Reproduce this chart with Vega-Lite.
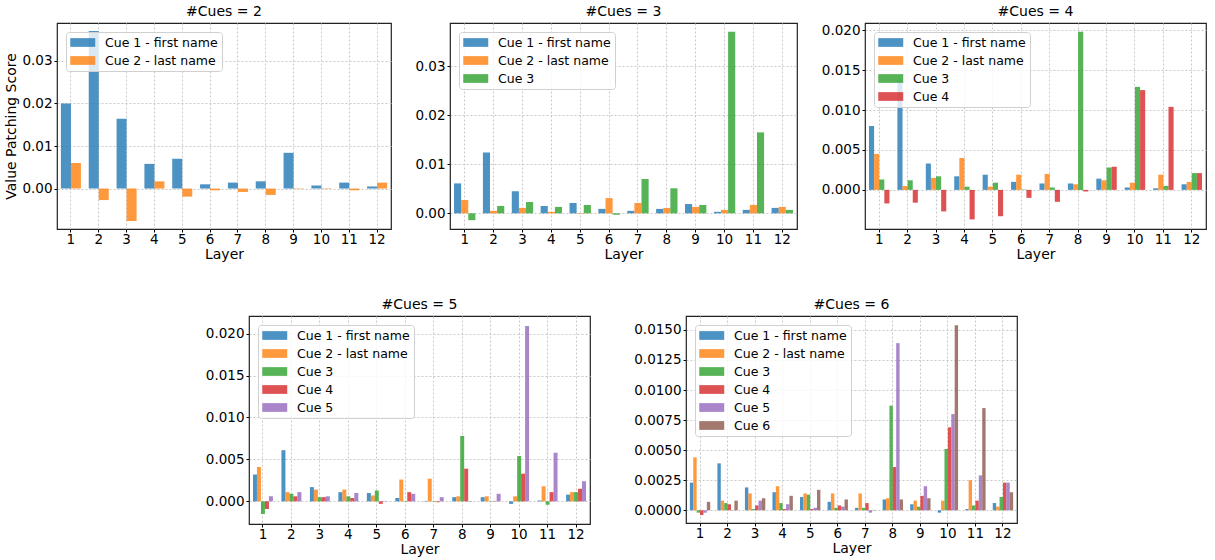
{
  "$schema": "https://vega.github.io/schema/vega-lite/v6.json",
  "background": "white",
  "padding": {"left": 4, "top": 4, "right": 0, "bottom": 0},
  "datasets": {
    "c2": [
      {"layer": 1, "cue": "Cue 1 - first name", "value": 0.0200},
      {"layer": 2, "cue": "Cue 1 - first name", "value": 0.0370},
      {"layer": 3, "cue": "Cue 1 - first name", "value": 0.0164},
      {"layer": 4, "cue": "Cue 1 - first name", "value": 0.0058},
      {"layer": 5, "cue": "Cue 1 - first name", "value": 0.0070},
      {"layer": 6, "cue": "Cue 1 - first name", "value": 0.0010},
      {"layer": 7, "cue": "Cue 1 - first name", "value": 0.0014},
      {"layer": 8, "cue": "Cue 1 - first name", "value": 0.0017},
      {"layer": 9, "cue": "Cue 1 - first name", "value": 0.0084},
      {"layer": 10, "cue": "Cue 1 - first name", "value": 0.0007},
      {"layer": 11, "cue": "Cue 1 - first name", "value": 0.0014},
      {"layer": 12, "cue": "Cue 1 - first name", "value": 0.0005},
      {"layer": 1, "cue": "Cue 2 - last name", "value": 0.0060},
      {"layer": 2, "cue": "Cue 2 - last name", "value": -0.0027},
      {"layer": 3, "cue": "Cue 2 - last name", "value": -0.0076},
      {"layer": 4, "cue": "Cue 2 - last name", "value": 0.0017},
      {"layer": 5, "cue": "Cue 2 - last name", "value": -0.0019},
      {"layer": 6, "cue": "Cue 2 - last name", "value": -0.0004},
      {"layer": 7, "cue": "Cue 2 - last name", "value": -0.0008},
      {"layer": 8, "cue": "Cue 2 - last name", "value": -0.0015},
      {"layer": 9, "cue": "Cue 2 - last name", "value": -0.0001},
      {"layer": 10, "cue": "Cue 2 - last name", "value": -0.0001},
      {"layer": 11, "cue": "Cue 2 - last name", "value": -0.0004},
      {"layer": 12, "cue": "Cue 2 - last name", "value": 0.0014}
    ],
    "c3": [
      {"layer": 1, "cue": "Cue 1 - first name", "value": 0.0061},
      {"layer": 2, "cue": "Cue 1 - first name", "value": 0.0124},
      {"layer": 3, "cue": "Cue 1 - first name", "value": 0.0045},
      {"layer": 4, "cue": "Cue 1 - first name", "value": 0.0015},
      {"layer": 5, "cue": "Cue 1 - first name", "value": 0.0021},
      {"layer": 6, "cue": "Cue 1 - first name", "value": 0.0009},
      {"layer": 7, "cue": "Cue 1 - first name", "value": 0.0005},
      {"layer": 8, "cue": "Cue 1 - first name", "value": 0.0009},
      {"layer": 9, "cue": "Cue 1 - first name", "value": 0.0019},
      {"layer": 10, "cue": "Cue 1 - first name", "value": 0.0003},
      {"layer": 11, "cue": "Cue 1 - first name", "value": 0.0007},
      {"layer": 12, "cue": "Cue 1 - first name", "value": 0.0011},
      {"layer": 1, "cue": "Cue 2 - last name", "value": 0.0027},
      {"layer": 2, "cue": "Cue 2 - last name", "value": 0.0005},
      {"layer": 3, "cue": "Cue 2 - last name", "value": 0.0011},
      {"layer": 4, "cue": "Cue 2 - last name", "value": 0.0003},
      {"layer": 5, "cue": "Cue 2 - last name", "value": -0.0001},
      {"layer": 6, "cue": "Cue 2 - last name", "value": 0.0031},
      {"layer": 7, "cue": "Cue 2 - last name", "value": 0.0021},
      {"layer": 8, "cue": "Cue 2 - last name", "value": 0.0011},
      {"layer": 9, "cue": "Cue 2 - last name", "value": 0.0013},
      {"layer": 10, "cue": "Cue 2 - last name", "value": 0.0007},
      {"layer": 11, "cue": "Cue 2 - last name", "value": 0.0017},
      {"layer": 12, "cue": "Cue 2 - last name", "value": 0.0013},
      {"layer": 1, "cue": "Cue 3", "value": -0.0014},
      {"layer": 2, "cue": "Cue 3", "value": 0.0015},
      {"layer": 3, "cue": "Cue 3", "value": 0.0023},
      {"layer": 4, "cue": "Cue 3", "value": 0.0013},
      {"layer": 5, "cue": "Cue 3", "value": 0.0017},
      {"layer": 6, "cue": "Cue 3", "value": -0.0003},
      {"layer": 7, "cue": "Cue 3", "value": 0.0070},
      {"layer": 8, "cue": "Cue 3", "value": 0.0051},
      {"layer": 9, "cue": "Cue 3", "value": 0.0017},
      {"layer": 10, "cue": "Cue 3", "value": 0.0370},
      {"layer": 11, "cue": "Cue 3", "value": 0.0165},
      {"layer": 12, "cue": "Cue 3", "value": 0.0007}
    ],
    "c4": [
      {"layer": 1, "cue": "Cue 1 - first name", "value": 0.0080},
      {"layer": 2, "cue": "Cue 1 - first name", "value": 0.0138},
      {"layer": 3, "cue": "Cue 1 - first name", "value": 0.0033},
      {"layer": 4, "cue": "Cue 1 - first name", "value": 0.0017},
      {"layer": 5, "cue": "Cue 1 - first name", "value": 0.0019},
      {"layer": 6, "cue": "Cue 1 - first name", "value": 0.0010},
      {"layer": 7, "cue": "Cue 1 - first name", "value": 0.0008},
      {"layer": 8, "cue": "Cue 1 - first name", "value": 0.0008},
      {"layer": 9, "cue": "Cue 1 - first name", "value": 0.0014},
      {"layer": 10, "cue": "Cue 1 - first name", "value": 0.0003},
      {"layer": 11, "cue": "Cue 1 - first name", "value": 0.0002},
      {"layer": 12, "cue": "Cue 1 - first name", "value": 0.0007},
      {"layer": 1, "cue": "Cue 2 - last name", "value": 0.0045},
      {"layer": 2, "cue": "Cue 2 - last name", "value": 0.0005},
      {"layer": 3, "cue": "Cue 2 - last name", "value": 0.0015},
      {"layer": 4, "cue": "Cue 2 - last name", "value": 0.0040},
      {"layer": 5, "cue": "Cue 2 - last name", "value": 0.0004},
      {"layer": 6, "cue": "Cue 2 - last name", "value": 0.0019},
      {"layer": 7, "cue": "Cue 2 - last name", "value": 0.0020},
      {"layer": 8, "cue": "Cue 2 - last name", "value": 0.0007},
      {"layer": 9, "cue": "Cue 2 - last name", "value": 0.0012},
      {"layer": 10, "cue": "Cue 2 - last name", "value": 0.0009},
      {"layer": 11, "cue": "Cue 2 - last name", "value": 0.0019},
      {"layer": 12, "cue": "Cue 2 - last name", "value": 0.0010},
      {"layer": 1, "cue": "Cue 3", "value": 0.0013},
      {"layer": 2, "cue": "Cue 3", "value": 0.0012},
      {"layer": 3, "cue": "Cue 3", "value": 0.0017},
      {"layer": 4, "cue": "Cue 3", "value": 0.0004},
      {"layer": 5, "cue": "Cue 3", "value": 0.0009},
      {"layer": 6, "cue": "Cue 3", "value": 0.00005},
      {"layer": 7, "cue": "Cue 3", "value": 0.0003},
      {"layer": 8, "cue": "Cue 3", "value": 0.0198},
      {"layer": 9, "cue": "Cue 3", "value": 0.0028},
      {"layer": 10, "cue": "Cue 3", "value": 0.0129},
      {"layer": 11, "cue": "Cue 3", "value": 0.0005},
      {"layer": 12, "cue": "Cue 3", "value": 0.0021},
      {"layer": 1, "cue": "Cue 4", "value": -0.0017},
      {"layer": 2, "cue": "Cue 4", "value": -0.0016},
      {"layer": 3, "cue": "Cue 4", "value": -0.0027},
      {"layer": 4, "cue": "Cue 4", "value": -0.0037},
      {"layer": 5, "cue": "Cue 4", "value": -0.0033},
      {"layer": 6, "cue": "Cue 4", "value": -0.0010},
      {"layer": 7, "cue": "Cue 4", "value": -0.0015},
      {"layer": 8, "cue": "Cue 4", "value": -0.0002},
      {"layer": 9, "cue": "Cue 4", "value": 0.0029},
      {"layer": 10, "cue": "Cue 4", "value": 0.0125},
      {"layer": 11, "cue": "Cue 4", "value": 0.0104},
      {"layer": 12, "cue": "Cue 4", "value": 0.0021}
    ],
    "c5": [
      {"layer": 1, "cue": "Cue 1 - first name", "value": 0.0032},
      {"layer": 2, "cue": "Cue 1 - first name", "value": 0.0061},
      {"layer": 3, "cue": "Cue 1 - first name", "value": 0.0017},
      {"layer": 4, "cue": "Cue 1 - first name", "value": 0.0011},
      {"layer": 5, "cue": "Cue 1 - first name", "value": 0.0010},
      {"layer": 6, "cue": "Cue 1 - first name", "value": 0.0004},
      {"layer": 7, "cue": "Cue 1 - first name", "value": 0.00005},
      {"layer": 8, "cue": "Cue 1 - first name", "value": 0.0005},
      {"layer": 9, "cue": "Cue 1 - first name", "value": 0.0005},
      {"layer": 10, "cue": "Cue 1 - first name", "value": -0.0003},
      {"layer": 11, "cue": "Cue 1 - first name", "value": 0.0001},
      {"layer": 12, "cue": "Cue 1 - first name", "value": 0.0008},
      {"layer": 1, "cue": "Cue 2 - last name", "value": 0.0041},
      {"layer": 2, "cue": "Cue 2 - last name", "value": 0.0011},
      {"layer": 3, "cue": "Cue 2 - last name", "value": 0.0014},
      {"layer": 4, "cue": "Cue 2 - last name", "value": 0.0014},
      {"layer": 5, "cue": "Cue 2 - last name", "value": 0.0007},
      {"layer": 6, "cue": "Cue 2 - last name", "value": 0.0026},
      {"layer": 7, "cue": "Cue 2 - last name", "value": 0.0027},
      {"layer": 8, "cue": "Cue 2 - last name", "value": 0.0006},
      {"layer": 9, "cue": "Cue 2 - last name", "value": 0.0006},
      {"layer": 10, "cue": "Cue 2 - last name", "value": 0.0006},
      {"layer": 11, "cue": "Cue 2 - last name", "value": 0.0018},
      {"layer": 12, "cue": "Cue 2 - last name", "value": 0.0011},
      {"layer": 1, "cue": "Cue 3", "value": -0.0015},
      {"layer": 2, "cue": "Cue 3", "value": 0.0009},
      {"layer": 3, "cue": "Cue 3", "value": 0.0005},
      {"layer": 4, "cue": "Cue 3", "value": 0.0006},
      {"layer": 5, "cue": "Cue 3", "value": 0.0013},
      {"layer": 6, "cue": "Cue 3", "value": 0.00005},
      {"layer": 7, "cue": "Cue 3", "value": 0.00005},
      {"layer": 8, "cue": "Cue 3", "value": 0.0078},
      {"layer": 9, "cue": "Cue 3", "value": 0.00005},
      {"layer": 10, "cue": "Cue 3", "value": 0.0054},
      {"layer": 11, "cue": "Cue 3", "value": -0.0004},
      {"layer": 12, "cue": "Cue 3", "value": 0.0011},
      {"layer": 1, "cue": "Cue 4", "value": -0.0009},
      {"layer": 2, "cue": "Cue 4", "value": 0.0006},
      {"layer": 3, "cue": "Cue 4", "value": 0.0005},
      {"layer": 4, "cue": "Cue 4", "value": 0.0004},
      {"layer": 5, "cue": "Cue 4", "value": -0.0003},
      {"layer": 6, "cue": "Cue 4", "value": 0.0011},
      {"layer": 7, "cue": "Cue 4", "value": -0.0001},
      {"layer": 8, "cue": "Cue 4", "value": 0.0039},
      {"layer": 9, "cue": "Cue 4", "value": 0.00005},
      {"layer": 10, "cue": "Cue 4", "value": 0.0033},
      {"layer": 11, "cue": "Cue 4", "value": 0.0011},
      {"layer": 12, "cue": "Cue 4", "value": 0.0015},
      {"layer": 1, "cue": "Cue 5", "value": 0.0006},
      {"layer": 2, "cue": "Cue 5", "value": 0.0011},
      {"layer": 3, "cue": "Cue 5", "value": 0.0006},
      {"layer": 4, "cue": "Cue 5", "value": 0.0010},
      {"layer": 5, "cue": "Cue 5", "value": 0.00005},
      {"layer": 6, "cue": "Cue 5", "value": 0.0009},
      {"layer": 7, "cue": "Cue 5", "value": 0.0005},
      {"layer": 8, "cue": "Cue 5", "value": 0.00005},
      {"layer": 9, "cue": "Cue 5", "value": 0.0009},
      {"layer": 10, "cue": "Cue 5", "value": 0.0209},
      {"layer": 11, "cue": "Cue 5", "value": 0.0058},
      {"layer": 12, "cue": "Cue 5", "value": 0.0024}
    ],
    "c6": [
      {"layer": 1, "cue": "Cue 1 - first name", "value": 0.0023},
      {"layer": 2, "cue": "Cue 1 - first name", "value": 0.0039},
      {"layer": 3, "cue": "Cue 1 - first name", "value": 0.0019},
      {"layer": 4, "cue": "Cue 1 - first name", "value": 0.0015},
      {"layer": 5, "cue": "Cue 1 - first name", "value": 0.0011},
      {"layer": 6, "cue": "Cue 1 - first name", "value": 0.0007},
      {"layer": 7, "cue": "Cue 1 - first name", "value": 0.0002},
      {"layer": 8, "cue": "Cue 1 - first name", "value": 0.0009},
      {"layer": 9, "cue": "Cue 1 - first name", "value": 0.0005},
      {"layer": 10, "cue": "Cue 1 - first name", "value": -0.0002},
      {"layer": 11, "cue": "Cue 1 - first name", "value": 0.0001},
      {"layer": 12, "cue": "Cue 1 - first name", "value": 0.0006},
      {"layer": 1, "cue": "Cue 2 - last name", "value": 0.0044},
      {"layer": 2, "cue": "Cue 2 - last name", "value": 0.0008},
      {"layer": 3, "cue": "Cue 2 - last name", "value": 0.0014},
      {"layer": 4, "cue": "Cue 2 - last name", "value": 0.0020},
      {"layer": 5, "cue": "Cue 2 - last name", "value": 0.0014},
      {"layer": 6, "cue": "Cue 2 - last name", "value": 0.0014},
      {"layer": 7, "cue": "Cue 2 - last name", "value": 0.0014},
      {"layer": 8, "cue": "Cue 2 - last name", "value": 0.0010},
      {"layer": 9, "cue": "Cue 2 - last name", "value": 0.0008},
      {"layer": 10, "cue": "Cue 2 - last name", "value": 0.0008},
      {"layer": 11, "cue": "Cue 2 - last name", "value": 0.0025},
      {"layer": 12, "cue": "Cue 2 - last name", "value": 0.0003},
      {"layer": 1, "cue": "Cue 3", "value": -0.0002},
      {"layer": 2, "cue": "Cue 3", "value": 0.0006},
      {"layer": 3, "cue": "Cue 3", "value": 0.0001},
      {"layer": 4, "cue": "Cue 3", "value": 0.0006},
      {"layer": 5, "cue": "Cue 3", "value": 0.0013},
      {"layer": 6, "cue": "Cue 3", "value": 0.0002},
      {"layer": 7, "cue": "Cue 3", "value": 0.0002},
      {"layer": 8, "cue": "Cue 3", "value": 0.0087},
      {"layer": 9, "cue": "Cue 3", "value": 0.0003},
      {"layer": 10, "cue": "Cue 3", "value": 0.0051},
      {"layer": 11, "cue": "Cue 3", "value": 0.0004},
      {"layer": 12, "cue": "Cue 3", "value": 0.0011},
      {"layer": 1, "cue": "Cue 4", "value": -0.0004},
      {"layer": 2, "cue": "Cue 4", "value": 0.0005},
      {"layer": 3, "cue": "Cue 4", "value": 0.0004},
      {"layer": 4, "cue": "Cue 4", "value": 0.0001},
      {"layer": 5, "cue": "Cue 4", "value": 0.0001},
      {"layer": 6, "cue": "Cue 4", "value": 0.0004},
      {"layer": 7, "cue": "Cue 4", "value": 0.0006},
      {"layer": 8, "cue": "Cue 4", "value": 0.0036},
      {"layer": 9, "cue": "Cue 4", "value": 0.0012},
      {"layer": 10, "cue": "Cue 4", "value": 0.0069},
      {"layer": 11, "cue": "Cue 4", "value": 0.0008},
      {"layer": 12, "cue": "Cue 4", "value": 0.0023},
      {"layer": 1, "cue": "Cue 5", "value": -0.0002},
      {"layer": 2, "cue": "Cue 5", "value": 0.00003},
      {"layer": 3, "cue": "Cue 5", "value": 0.0008},
      {"layer": 4, "cue": "Cue 5", "value": 0.0005},
      {"layer": 5, "cue": "Cue 5", "value": 0.0002},
      {"layer": 6, "cue": "Cue 5", "value": 0.0003},
      {"layer": 7, "cue": "Cue 5", "value": -0.0002},
      {"layer": 8, "cue": "Cue 5", "value": 0.0139},
      {"layer": 9, "cue": "Cue 5", "value": 0.0020},
      {"layer": 10, "cue": "Cue 5", "value": 0.0080},
      {"layer": 11, "cue": "Cue 5", "value": 0.0029},
      {"layer": 12, "cue": "Cue 5", "value": 0.0023},
      {"layer": 1, "cue": "Cue 6", "value": 0.0007},
      {"layer": 2, "cue": "Cue 6", "value": 0.0008},
      {"layer": 3, "cue": "Cue 6", "value": 0.0010},
      {"layer": 4, "cue": "Cue 6", "value": 0.0012},
      {"layer": 5, "cue": "Cue 6", "value": 0.0017},
      {"layer": 6, "cue": "Cue 6", "value": 0.0009},
      {"layer": 7, "cue": "Cue 6", "value": 0.00003},
      {"layer": 8, "cue": "Cue 6", "value": 0.0009},
      {"layer": 9, "cue": "Cue 6", "value": 0.0010},
      {"layer": 10, "cue": "Cue 6", "value": 0.0154},
      {"layer": 11, "cue": "Cue 6", "value": 0.0085},
      {"layer": 12, "cue": "Cue 6", "value": 0.0015}
    ]
  },
  "vconcat": [
    {
      "hconcat": [
        {
          "title": "#Cues = 2",
          "width": 334, "height": 206,
          "data": {"name": "c2"},
          "mark": {"type": "bar", "opacity": 0.8},
          "encoding": {
            "x": {"field": "layer", "type": "ordinal", "title": "Layer", "scale": {"paddingInner": 0.28, "paddingOuter": 0.14}},
            "xOffset": {"field": "cue", "type": "nominal"},
            "y": {"field": "value", "type": "quantitative", "title": "Value Patching Score",
                  "scale": {"domain": [-0.0095, 0.0389], "nice": false, "zero": false},
                  "axis": {"values": [0, 0.01, 0.02, 0.03], "format": ".2f"}},
            "color": {"field": "cue", "type": "nominal",
                      "scale": {"domain": ["Cue 1 - first name", "Cue 2 - last name"], "range": ["#1f77b4", "#ff7f0e"]}}
          }
        },
        {
          "title": "#Cues = 3",
          "width": 347, "height": 206,
          "data": {"name": "c3"},
          "mark": {"type": "bar", "opacity": 0.8},
          "encoding": {
            "x": {"field": "layer", "type": "ordinal", "title": "Layer", "scale": {"paddingInner": 0.26, "paddingOuter": 0.14}},
            "xOffset": {"field": "cue", "type": "nominal"},
            "y": {"field": "value", "type": "quantitative", "title": null,
                  "scale": {"domain": [-0.0032, 0.0388], "nice": false, "zero": false},
                  "axis": {"values": [0, 0.01, 0.02, 0.03], "format": ".2f"}},
            "color": {"field": "cue", "type": "nominal",
                      "scale": {"domain": ["Cue 1 - first name", "Cue 2 - last name", "Cue 3"], "range": ["#1f77b4", "#ff7f0e", "#2ca02c"]}}
          }
        },
        {
          "title": "#Cues = 4",
          "width": 341, "height": 206,
          "data": {"name": "c4"},
          "mark": {"type": "bar", "opacity": 0.8},
          "encoding": {
            "x": {"field": "layer", "type": "ordinal", "title": "Layer", "scale": {"paddingInner": 0.28, "paddingOuter": 0.14}},
            "xOffset": {"field": "cue", "type": "nominal"},
            "y": {"field": "value", "type": "quantitative", "title": null,
                  "scale": {"domain": [-0.0049, 0.0209], "nice": false, "zero": false},
                  "axis": {"values": [0, 0.005, 0.01, 0.015, 0.02], "format": ".3f"}},
            "color": {"field": "cue", "type": "nominal",
                      "scale": {"domain": ["Cue 1 - first name", "Cue 2 - last name", "Cue 3", "Cue 4"], "range": ["#1f77b4", "#ff7f0e", "#2ca02c", "#d62728"]}}
          }
        }
      ],
      "spacing": 22,
      "resolve": {"scale": {"color": "independent", "y": "independent", "x": "independent", "xOffset": "independent"}}
    },
    {
      "hconcat": [
        {
          "width": 105, "height": 208,
          "view": {"stroke": null},
          "data": {"values": []},
          "mark": {"type": "point", "opacity": 0},
          "encoding": {}
        },
        {
          "title": "#Cues = 5",
          "width": 341, "height": 208,
          "data": {"name": "c5"},
          "mark": {"type": "bar", "opacity": 0.8},
          "encoding": {
            "x": {"field": "layer", "type": "ordinal", "title": "Layer", "scale": {"paddingInner": 0.3, "paddingOuter": 0.14}},
            "xOffset": {"field": "cue", "type": "nominal"},
            "y": {"field": "value", "type": "quantitative", "title": null,
                  "scale": {"domain": [-0.0027, 0.0221], "nice": false, "zero": false},
                  "axis": {"values": [0, 0.005, 0.01, 0.015, 0.02], "format": ".3f"}},
            "color": {"field": "cue", "type": "nominal",
                      "scale": {"domain": ["Cue 1 - first name", "Cue 2 - last name", "Cue 3", "Cue 4", "Cue 5"], "range": ["#1f77b4", "#ff7f0e", "#2ca02c", "#d62728", "#9467bd"]}}
          }
        },
        {
          "title": "#Cues = 6",
          "width": 331, "height": 207,
          "data": {"name": "c6"},
          "mark": {"type": "bar", "opacity": 0.8},
          "encoding": {
            "x": {"field": "layer", "type": "ordinal", "title": "Layer", "scale": {"paddingInner": 0.26, "paddingOuter": 0.14}},
            "xOffset": {"field": "cue", "type": "nominal"},
            "y": {"field": "value", "type": "quantitative", "title": null,
                  "scale": {"domain": [-0.00106, 0.01616], "nice": false, "zero": false},
                  "axis": {"values": [0, 0.0025, 0.005, 0.0075, 0.01, 0.0125, 0.015], "format": ".4f"}},
            "color": {"field": "cue", "type": "nominal",
                      "scale": {"domain": ["Cue 1 - first name", "Cue 2 - last name", "Cue 3", "Cue 4", "Cue 5", "Cue 6"], "range": ["#1f77b4", "#ff7f0e", "#2ca02c", "#d62728", "#9467bd", "#8c564b"]}}
          }
        }
      ],
      "spacing": 42,
      "resolve": {"scale": {"color": "independent", "y": "independent", "x": "independent", "xOffset": "independent"}}
    }
  ],
  "spacing": 34,
  "resolve": {"scale": {"color": "independent", "y": "independent", "x": "independent", "xOffset": "independent"}},
  "config": {
    "font": "DejaVu Sans",
    "view": {"stroke": "#222222", "strokeWidth": 1.2},
    "title": {"fontSize": 14, "fontWeight": "normal", "color": "black", "offset": 4},
    "axis": {
      "domain": false,
      "labelFontSize": 13.5,
      "labelColor": "black",
      "titleFontSize": 14,
      "titleFontWeight": "normal",
      "titleColor": "black",
      "tickColor": "black",
      "tickSize": 3,
      "labelPadding": 2,
      "titlePadding": 3,
      "gridColor": "#c8c8c8",
      "gridDash": [2, 2],
      "gridWidth": 1
    },
    "axisX": {"labelAngle": 0, "bandPosition": 0.5, "grid": true, "labelPadding": 0, "titlePadding": 2},
    "legend": {
      "orient": "top-left",
      "offset": 9,
      "title": null,
      "padding": 4,
      "fillColor": "rgba(255,255,255,0.8)",
      "strokeColor": "#d0d0d0",
      "cornerRadius": 3,
      "symbolType": "M-1,-0.7H3V0.7H-1Z",
      "symbolSize": 156,
      "symbolOpacity": 0.8,
      "symbolStrokeWidth": 0,
      "labelFontSize": 12.5,
      "labelColor": "black",
      "labelOffset": 22,
      "rowPadding": 5
    }
  }
}
